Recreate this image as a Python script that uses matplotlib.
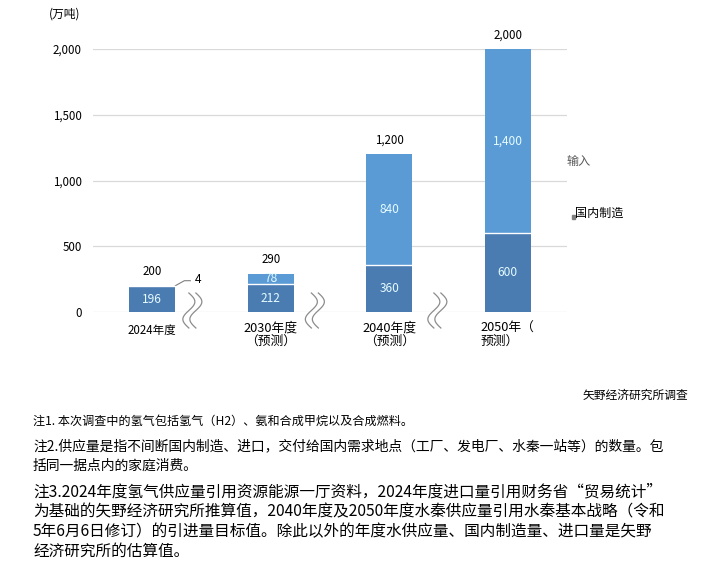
"""Hydrogen supply outlook chart (domestic production vs imports)."""

import matplotlib.pyplot as plt
import numpy as np

plt.rcParams["font.family"] = ["Noto Sans CJK SC", "DejaVu Sans"]
plt.rcParams["font.weight"] = 500

categories = ["2024年度", "2030年度\n（预测）", "2040年度\n（预测）", "2050年（\n预测）"]
domestic = [196, 212, 360, 600]
imports = [4, 78, 840, 1400]
totals = [200, 290, 1200, 2000]
yticks = [0, 500, 1000, 1500, 2000]
legend_labels = ["输入", "国内制造"]
unit_label = "(万吨)"
source = "矢野经济研究所调查"
notes = [
    ("注1. 本次调查中的氢气包括氢气（H2）、氨和合成甲烷以及合成燃料。", 8.7, [421.7]),
    ("注2.供应量是指不间断国内制造、进口，交付给国内需求地点（工厂、发电厂、水秦一站等）的数量。包\n"
     "括同一据点内的家庭消费。", 9.95, [446.7, 465.5]),
    ("注3.2024年度氢气供应量引用资源能源一厅资料，2024年度进口量引用财务省“贸易统计”\n"
     "为基础的矢野经济研究所推算值，2040年度及2050年度水秦供应量引用水秦基本战略（令和\n"
     "5年6月6日修订）的引进量目标值。除此以外的年度水供应量、国内制造量、进口量是矢野\n"
     "经济研究所的估算值。", 11.25, [491.7, 512.2, 532.0, 551.7]),
]

W, H = 725, 579
DARK = "#4a7bb1"
LIGHT = "#5b9bd5"
INNER = "#e4fbff"


def fx(px):
    return px / W


def fy(py):
    return 1 - py / H


fig = plt.figure(figsize=(W / 100, H / 100), dpi=100)
ax = fig.add_axes([fx(93), fy(312), fx(567) - fx(93), fy(49) - fy(312)])

x = np.arange(len(categories))
bw = 0.39
b1 = ax.bar(x, domestic, width=bw, color=DARK, zorder=3)
b2 = ax.bar(x, imports, width=bw, bottom=domestic, color=LIGHT, zorder=3)

# white separator between the two segments
for r in b2:
    ax.plot([r.get_x(), r.get_x() + r.get_width()], [r.get_y(), r.get_y()],
            color="white", lw=1.0, zorder=4)

ax.set_xlim(-0.5, len(categories) - 0.5)
ax.set_ylim(0, 2000)
ax.set_yticks(yticks)
ax.set_yticklabels([f"{v:,}" for v in yticks], fontsize=8.3)
ax.tick_params(axis="y", length=0, pad=8)
ax.tick_params(axis="x", length=0, labelbottom=False)
ax.grid(axis="y", color="#d9d9d9", lw=0.9, zorder=0)
for s in ax.spines.values():
    s.set_visible(False)

# values inside bars
for i, (d, m) in enumerate(zip(domestic, imports)):
    ax.text(i, d / 2, f"{d:,}", ha="center", va="center", color=INNER,
            fontsize=8.6, zorder=5)
    if m >= 50:
        ax.text(i, d + m / 2, f"{m:,}", ha="center", va="center", color=INNER,
                fontsize=8.6, zorder=5)

# small import value with a leader line
px_x = 1 / 118.5
px_y = 2000 / 263
i0 = 0
top0 = domestic[i0] + imports[i0]
xr = i0 + bw / 2
ax.plot([xr, xr + 9 * px_x, xr + 15 * px_x],
        [top0, top0 + 5 * px_y, top0 + 5 * px_y], color="#7f7f7f", lw=0.8,
        clip_on=False)
ax.text(xr + 19 * px_x, top0 + 6 * px_y, f"{imports[i0]:,}", ha="left",
        va="center", fontsize=8.6)

# totals above bars
for i, t in enumerate(totals):
    ax.annotate(f"{t:,}", (i, t), xytext=(0, 10), textcoords="offset points",
                ha="center", va="center", fontsize=8.3, annotation_clip=False)

# category labels
for i, lab in enumerate(categories):
    if i == 0:
        ax.annotate(lab, (i, 0), xytext=(0, -13.5), textcoords="offset points",
                    ha="center", va="center", fontsize=8.3, annotation_clip=False)
    elif i == len(categories) - 1:
        ax.annotate(lab, (i - bw / 2 - 0.035, 0), xytext=(0, -7),
                    textcoords="offset points", ha="left", va="top",
                    fontsize=9.2, linespacing=1.05, annotation_clip=False)
    else:
        ax.annotate(lab, (i, 0), xytext=(0, -7), textcoords="offset points",
                    ha="center", va="top", fontsize=9.2, linespacing=1.05,
                    multialignment="center", annotation_clip=False)

# axis-break marks between categories
t = np.linspace(0, 1, 60)
for i, off in zip(range(len(categories) - 1), [17, 21, 25]):
    xc = i + bw / 2 + off * px_x
    yy = (19 - 35 * t) * px_y
    for dx in (-3.5, 3.5):
        xx = xc + (dx + 6 * np.sin(2 * np.pi * t)) * px_x
        ax.plot(xx, yy, color="#8c8c8c", lw=0.9, clip_on=False, zorder=6)

# legend labels beside the chart
fig.text(fx(567), fy(161), legend_labels[0], ha="left", va="center",
         fontsize=8.7, color="#595959")
fig.text(fx(575), fy(213), legend_labels[1], ha="left", va="center",
         fontsize=8.7, color="black")
fig.patches.append(plt.Rectangle((fx(571.5), fy(219.5)), 3 / W, 4 / H,
                                 transform=fig.transFigure, color="#7f7f7f"))

fig.text(fx(49), fy(14), unit_label, ha="left", va="center", fontsize=8.5)
fig.text(fx(688), fy(395), source, ha="right", va="center", fontsize=8.5)

for text, size, ys in notes:
    for line, py in zip(text.split("\n"), ys):
        fig.text(fx(33), fy(py), line, ha="left", va="center", fontsize=size)

fig.savefig("out.png", dpi=100, facecolor="white")
